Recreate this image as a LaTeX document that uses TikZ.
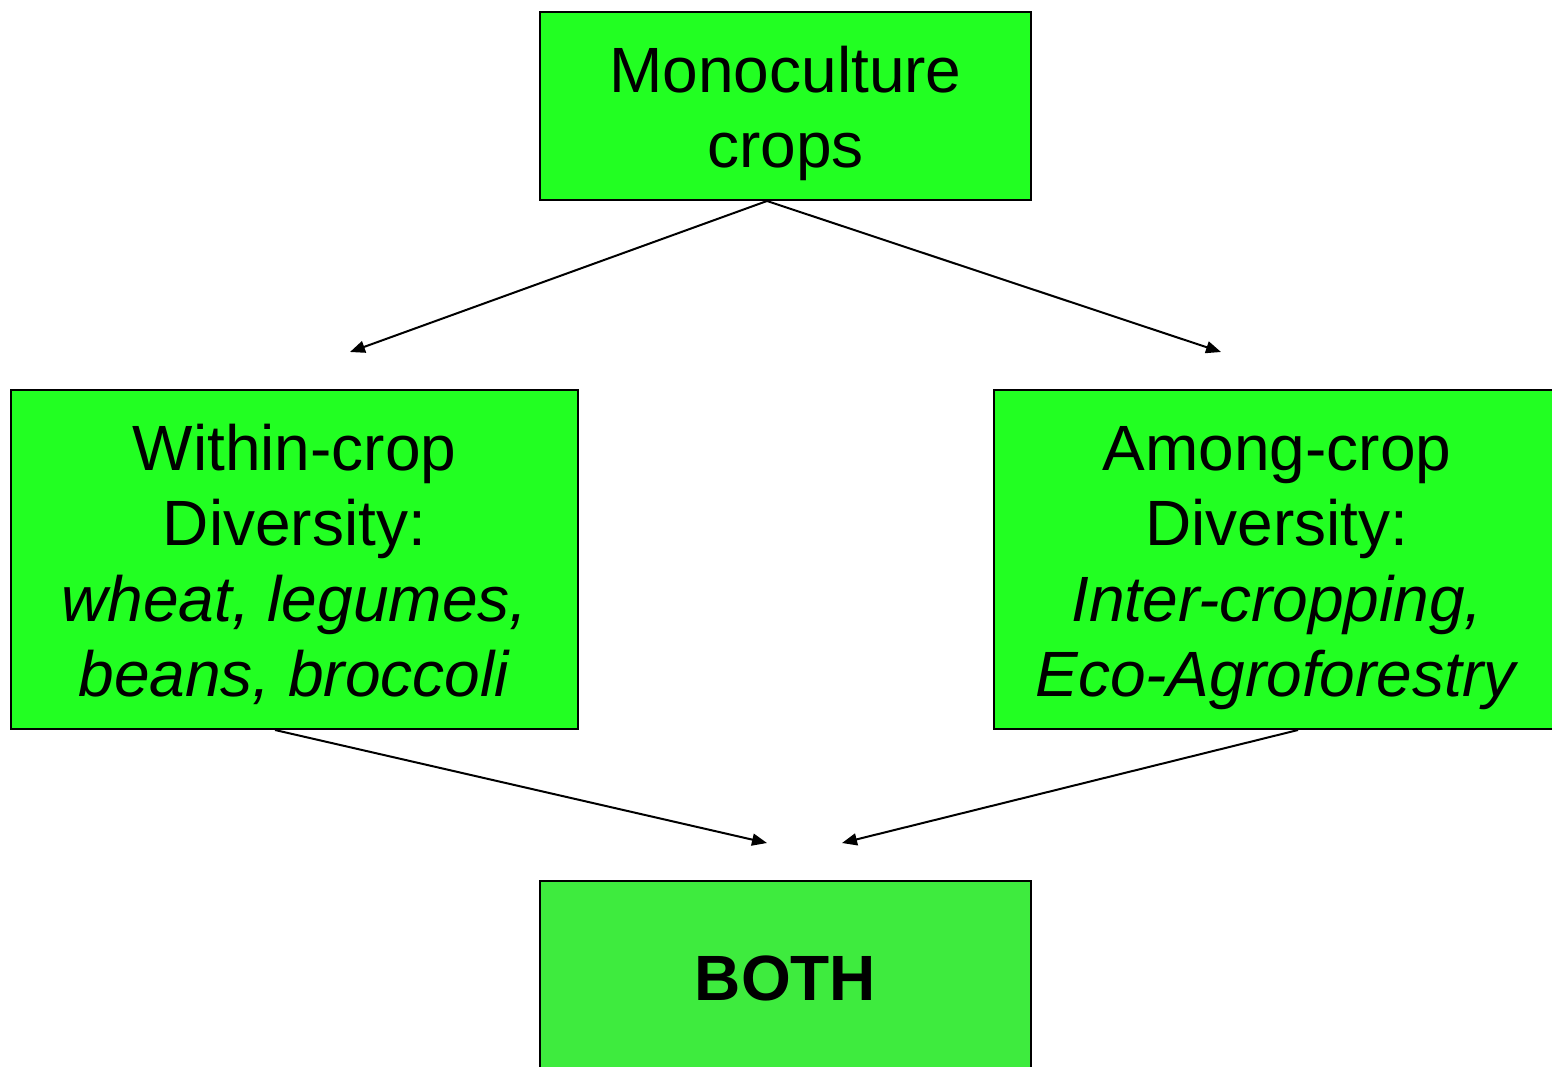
\documentclass[tikz,border=0pt]{standalone}
\usepackage{fontspec}
\setmainfont{Liberation Sans}
\usetikzlibrary{arrows.meta}
\definecolor{boxgreen}{RGB}{34,255,34}
\definecolor{bothgreen}{RGB}{62,235,62}
\newcommand{\boxlines}[1]{\raisebox{-4.4pt}[\height][\depth]{\begin{tabular}{@{}c@{}}#1\end{tabular}}}
\begin{document}
\begin{tikzpicture}[x=0.5pt,y=-0.5pt,
  box/.style={draw=black, line width=1pt, fill=boxgreen, inner sep=0pt,
    font=\fontsize{32}{37.8}\selectfont},
  conn/.style={line width=1pt, -{Triangle[length=7.5pt,width=6pt]}}]
\useasboundingbox (0,0) rectangle (1552,1066);
\clip (0,0) rectangle (1552,1066);
\node[box, minimum width=245.5pt, minimum height=94pt] (mono) at (785.5,106)
  {\boxlines{Monoculture\\crops}};
\node[box, minimum width=283.5pt, minimum height=169.5pt] (within) at (294.5,559.5)
  {\boxlines{Within-crop\\Diversity:\\\textit{wheat, legumes,}\\\textit{beans, broccoli}}};
\node[box, minimum width=283pt, minimum height=169.5pt] (among) at (1277,559.5)
  {\boxlines{Among-crop\\Diversity:\\\textit{Inter-cropping,}\\\textit{Eco-Agroforestry}}};
\node[box, fill=bothgreen, minimum width=245.5pt, minimum height=96pt,
  font=\fontsize{32}{37.8}\selectfont\bfseries] (both) at (785.5,977) {\boxlines{BOTH}};
\coordinate (tipW) at (350,352);
\coordinate (tipA) at (1221,352);
\coordinate (tipB1) at (767,843);
\coordinate (tipB2) at (842,843);
\draw[conn] ([xshift=-9.25pt]mono.south) -- (tipW);
\draw[conn] ([xshift=-9.25pt]mono.south) -- (tipA);
\draw[conn] ([xshift=-9.75pt]within.south) -- (tipB1);
\draw[conn] ([xshift=10.5pt]among.south) -- (tipB2);
\end{tikzpicture}
\end{document}
